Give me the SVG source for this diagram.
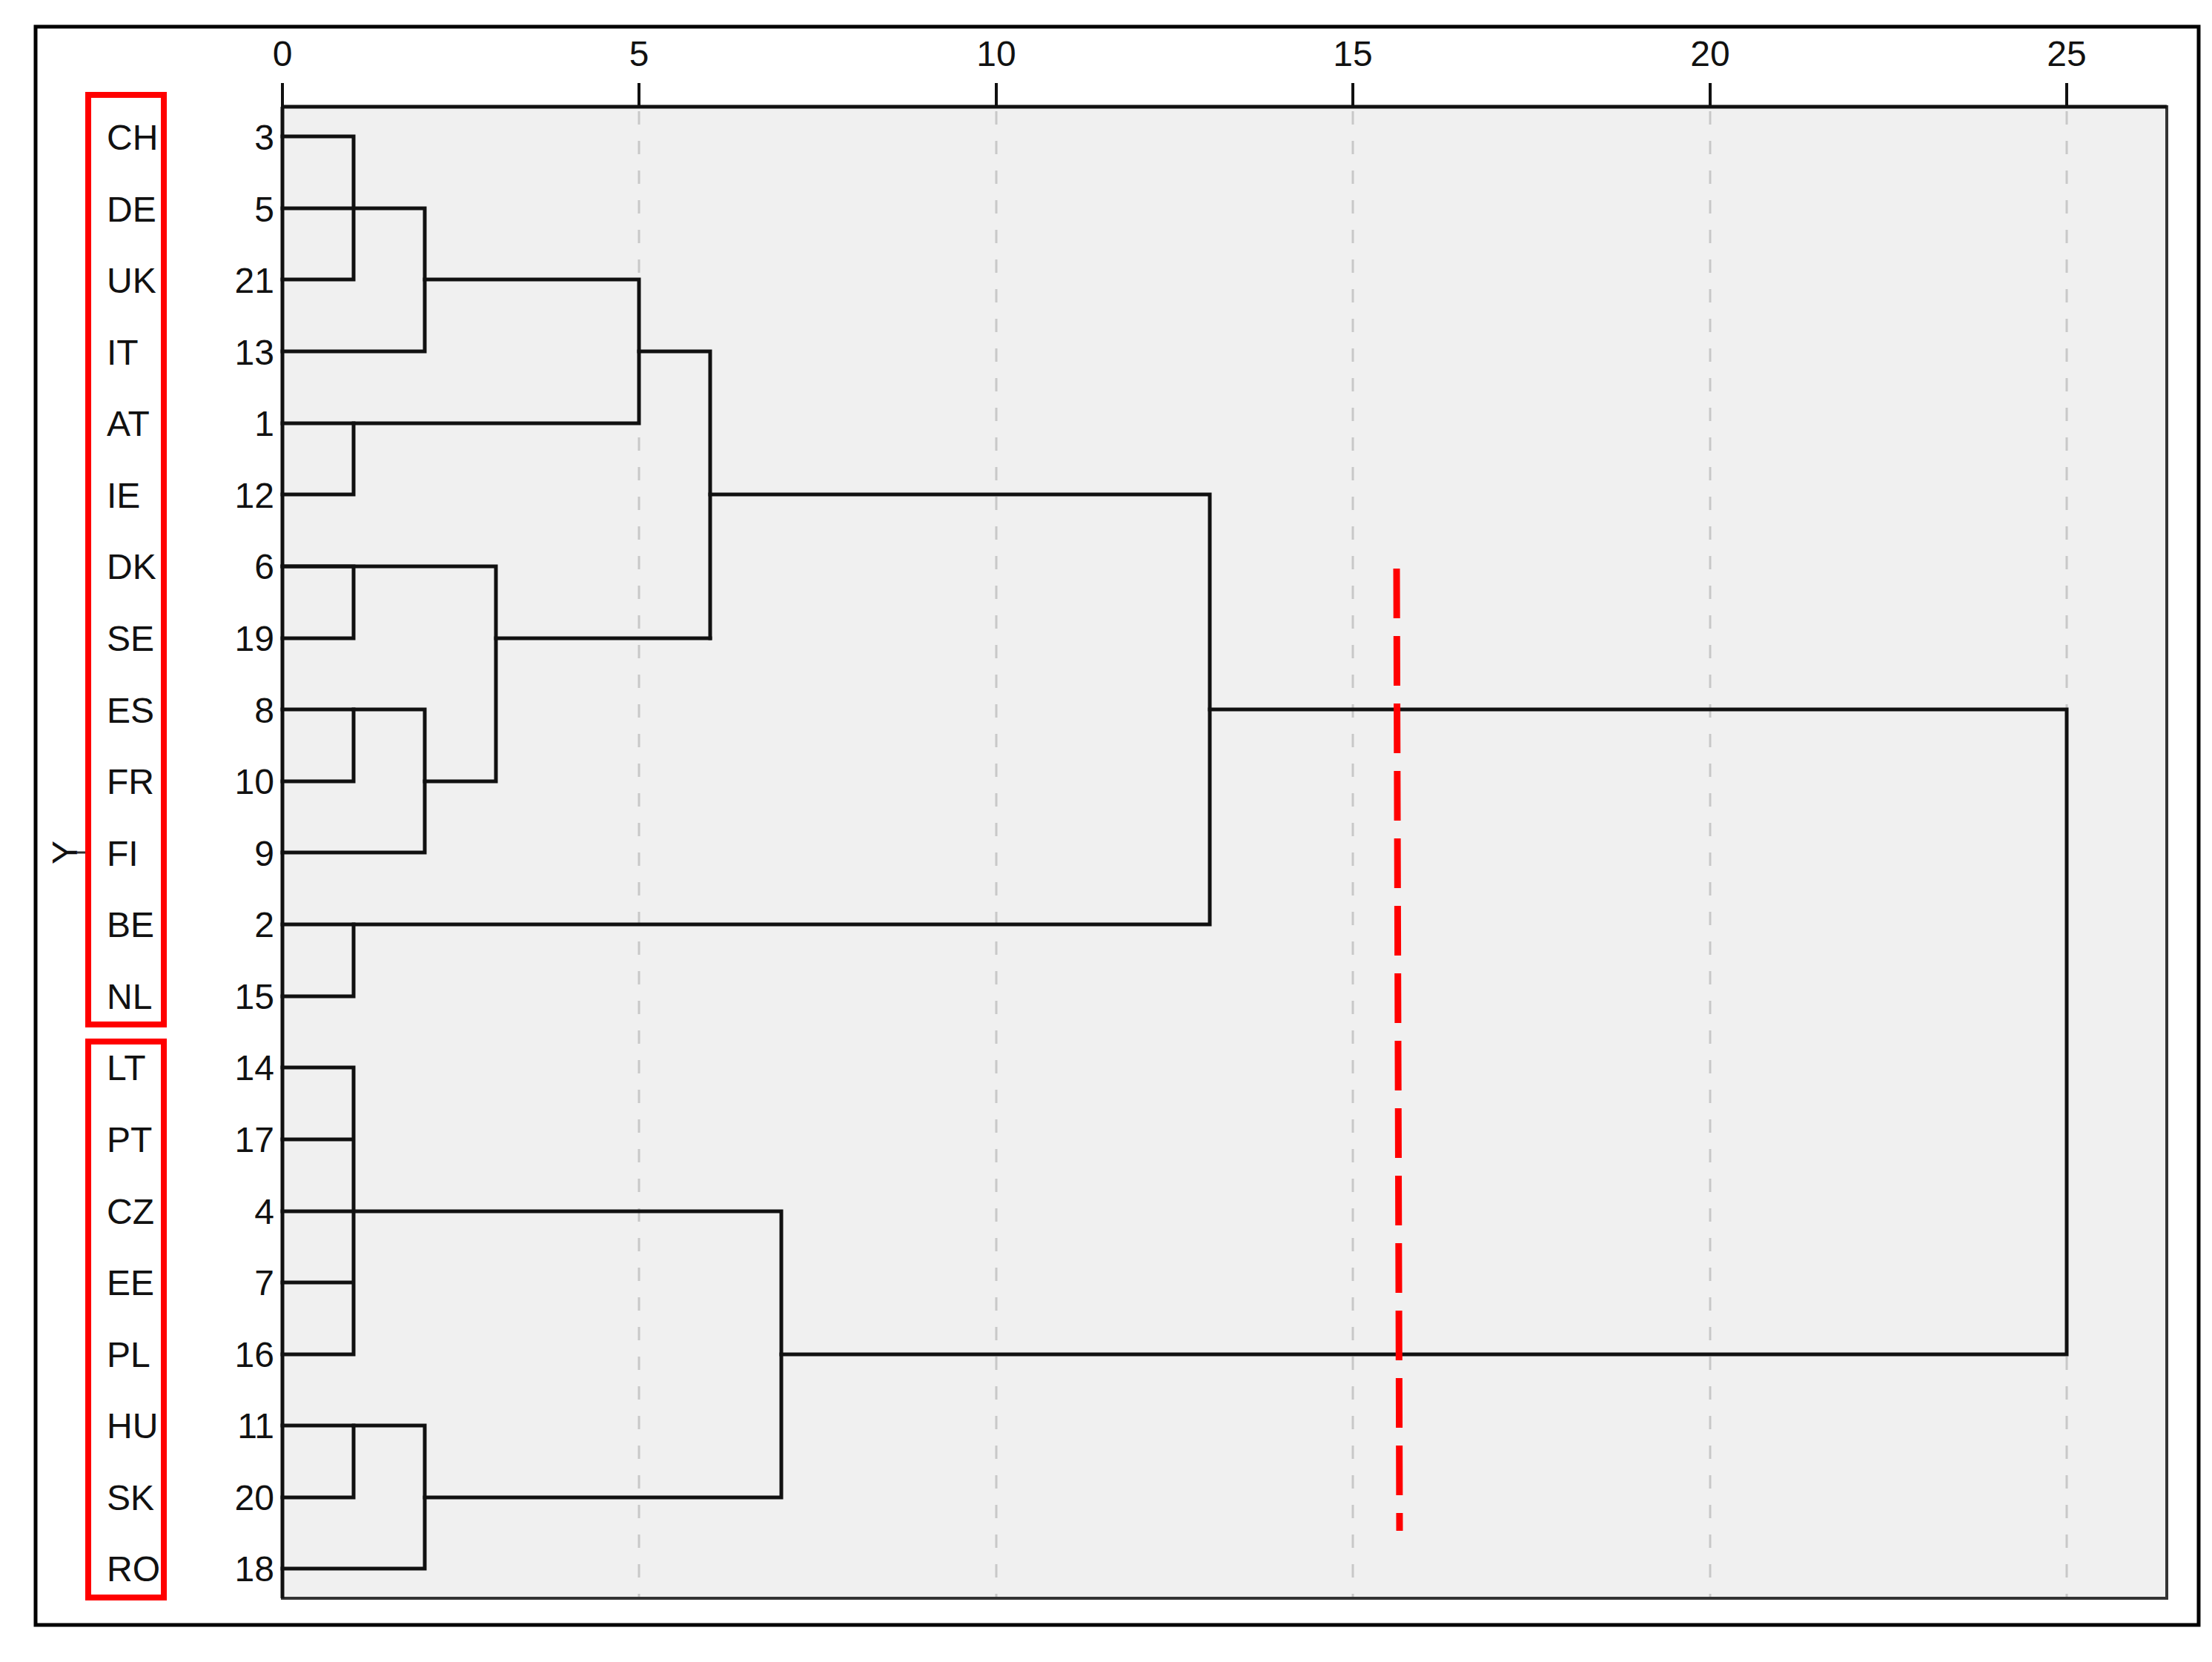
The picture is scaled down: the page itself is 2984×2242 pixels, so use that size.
<svg xmlns="http://www.w3.org/2000/svg" width="2984" height="2242" viewBox="0 0 2984 2242">
<style>
.t{font-family:"Liberation Sans",Arial,sans-serif;font-size:48px;fill:#111}
.n{text-anchor:end}
.tr{stroke:#111;stroke-width:5;fill:none;stroke-linecap:square}
.g{stroke:#c8c8c8;stroke-width:3;stroke-dasharray:18 22}
.rb{fill:none;stroke:#f00;stroke-width:8}
</style>
<rect width="2984" height="2242" fill="#fff"/>
<rect x="48" y="36" width="2918" height="2156" fill="none" stroke="#000" stroke-width="5"/>
<rect x="381" y="144" width="2542" height="2012" fill="#f0f0f0" stroke="#333" stroke-width="4"/>
<g id="grid">
<line class="g" x1="862" y1="150" x2="862" y2="2154"/>
<line class="g" x1="1344" y1="150" x2="1344" y2="2154"/>
<line class="g" x1="1825" y1="150" x2="1825" y2="2154"/>
<line class="g" x1="2307" y1="150" x2="2307" y2="2154"/>
<line class="g" x1="2788" y1="150" x2="2788" y2="2154"/>
</g>
<g id="axis" stroke="#111" stroke-width="4">
<line x1="381" y1="112" x2="381" y2="144"/><line x1="862" y1="112" x2="862" y2="144"/><line x1="1344" y1="112" x2="1344" y2="144"/><line x1="1825" y1="112" x2="1825" y2="144"/><line x1="2307" y1="112" x2="2307" y2="144"/><line x1="2788" y1="112" x2="2788" y2="144"/>
<line x1="381" y1="144" x2="2923" y2="144" stroke-width="5"/>
<line x1="381" y1="144" x2="381" y2="2156" stroke-width="5"/>
</g>
<g class="t" text-anchor="middle">
<text x="381" y="89">0</text><text x="862" y="89">5</text><text x="1344" y="89">10</text><text x="1825" y="89">15</text><text x="2307" y="89">20</text><text x="2788" y="89">25</text>
</g>
<g id="leaves" class="t n">
<text x="370" y="202">3</text><text x="370" y="299">5</text><text x="370" y="395">21</text><text x="370" y="492">13</text><text x="370" y="588">1</text><text x="370" y="685">12</text><text x="370" y="781">6</text><text x="370" y="878">19</text><text x="370" y="975">8</text><text x="370" y="1071">10</text><text x="370" y="1168">9</text><text x="370" y="1264">2</text><text x="370" y="1361">15</text><text x="370" y="1457">14</text><text x="370" y="1554">17</text><text x="370" y="1651">4</text><text x="370" y="1747">7</text><text x="370" y="1844">16</text><text x="370" y="1940">11</text><text x="370" y="2037">20</text><text x="370" y="2133">18</text>
</g>
<g id="countries" class="t">
<text x="144" y="202">CH</text><text x="144" y="299">DE</text><text x="144" y="395">UK</text><text x="144" y="492">IT</text><text x="144" y="588">AT</text><text x="144" y="685">IE</text><text x="144" y="781">DK</text><text x="144" y="878">SE</text><text x="144" y="975">ES</text><text x="144" y="1071">FR</text><text x="144" y="1168">FI</text><text x="144" y="1264">BE</text><text x="144" y="1361">NL</text><text x="144" y="1457">LT</text><text x="144" y="1554">PT</text><text x="144" y="1651">CZ</text><text x="144" y="1747">EE</text><text x="144" y="1844">PL</text><text x="144" y="1940">HU</text><text x="144" y="2037">SK</text><text x="144" y="2133">RO</text>
</g>
<g id="groups">
<rect class="rb" x="119" y="128" width="102" height="1254"/>
<rect class="rb" x="119" y="1405" width="102" height="750"/>
<text class="t" transform="translate(104,1150) rotate(-90)" text-anchor="middle">Y</text>
<line x1="104" y1="1150" x2="115" y2="1150" stroke="#333" stroke-width="3"/>
</g>
<g id="connectors" class="tr">
<path d="M381 184H477V377H381"/>
<path d="M381 281H573V474H381"/>
<path d="M573 377H862V571H381"/>
<path d="M381 667H477V571"/>
<path d="M862 474H958V861"/>
<path d="M381 764H477V861H381"/>
<path d="M381 957H477V1054H381"/>
<path d="M477 957H573V1150H381"/>
<path d="M573 1054H669V764H381"/>
<path d="M669 861H958"/>
<path d="M958 667H1632V1247H381"/>
<path d="M381 1344H477V1247"/>
<path d="M1632 957H2788V1827H1054"/>
<path d="M381 1440H477V1827H381M381 1537H477M381 1730H477"/>
<path d="M381 1634H1054V2020H573"/>
<path d="M381 1923H477V2020H381"/>
<path d="M477 1923H573V2116H381"/>
</g>
<line id="cut" x1="1884" y1="767" x2="1888" y2="2065" stroke="#f00" stroke-width="9" stroke-dasharray="67 24"/>
</svg>
